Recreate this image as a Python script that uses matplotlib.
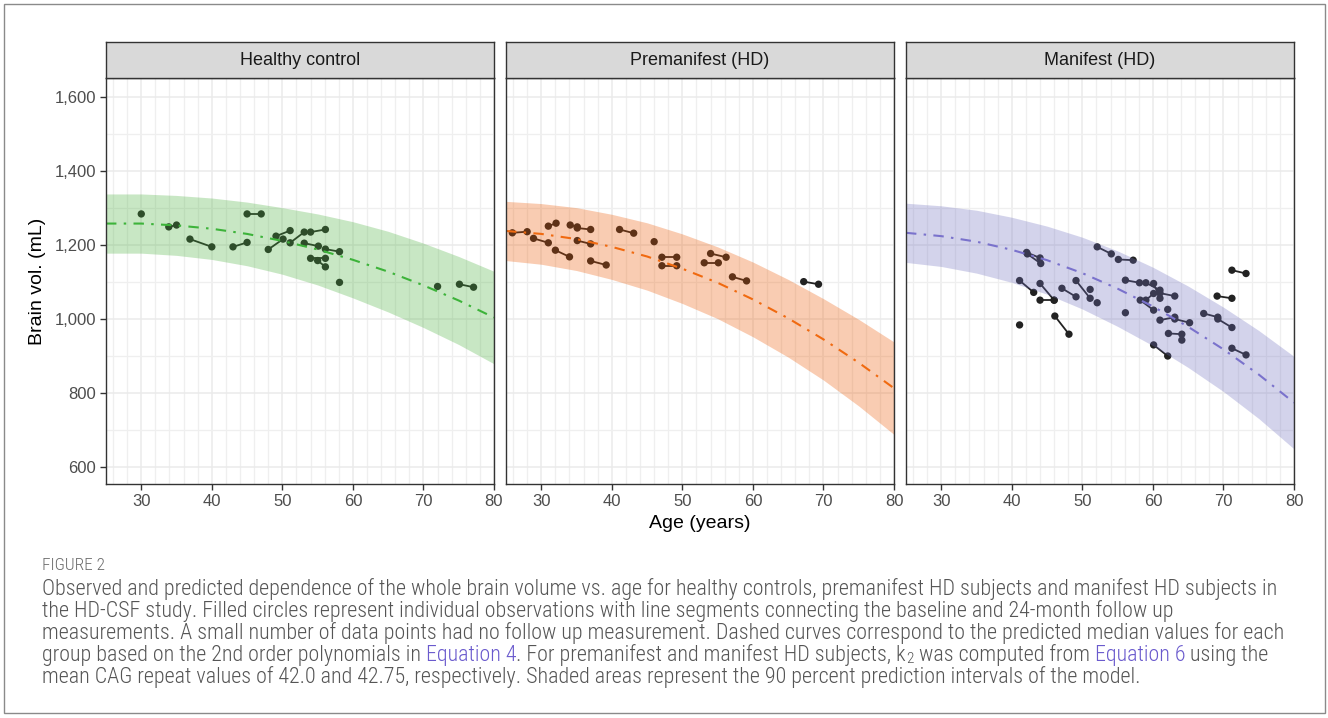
import numpy as np
import matplotlib
matplotlib.use("Agg")
import matplotlib.pyplot as plt
from matplotlib.patches import Rectangle
from matplotlib.ticker import FuncFormatter
from matplotlib import font_manager

nan = np.nan
W, H = 1328, 718

# ---------------- data ----------------
panel_titles = ["Healthy control", "Premanifest (HD)", "Manifest (HD)"]
x_ticks = [30, 40, 50, 60, 70, 80]
y_ticks = [600, 800, 1000, 1200, 1400, 1600]

curve_age = [25, 30, 35, 40, 45, 50, 55, 60, 65, 70, 75, 80]
hc_median = [1258, 1258, 1253, 1244, 1230, 1211, 1188, 1160, 1128, 1091, 1050, 1004]
hc_upper = [1338, 1338, 1334, 1327, 1316, 1301, 1284, 1263, 1237, 1205, 1169, 1129]
hc_lower = [1178, 1178, 1172, 1161, 1144, 1121, 1092, 1057, 1019, 977, 931, 879]

pre_median = [1238, 1230, 1216, 1195, 1169, 1136, 1098, 1053, 1002, 945, 882, 813]
pre_upper = [1318, 1312, 1301, 1283, 1260, 1230, 1195, 1154, 1107, 1055, 999, 938]
pre_lower = [1158, 1148, 1131, 1107, 1078, 1042, 1001, 952, 897, 835, 765, 688]

man_median = [1233, 1224, 1209, 1187, 1159, 1124, 1082, 1034, 979, 918, 850, 774]
man_upper = [1313, 1306, 1294, 1275, 1251, 1221, 1184, 1140, 1089, 1032, 969, 899]
man_lower = [1153, 1142, 1124, 1099, 1067, 1027, 980, 928, 869, 804, 731, 649]

hc_age0 = [30.0, 33.9, 36.9, 43.0, 45.0, 48.0, 49.1, 51.1, 54.0, 53.1, 56.1, 54.0, 55.0, 58.1, 72.0, 75.1]
hc_vol0 = [1284, 1249, 1216, 1195, 1284, 1188, 1224, 1206, 1235, 1205, 1189, 1164, 1158, 1099, 1088, 1094]
hc_age1 = [nan, 35.0, 40.0, 45.0, 47.0, 50.1, 51.1, 53.1, 56.1, 55.1, 58.1, 56.1, 56.1, nan, nan, 77.1]
hc_vol1 = [nan, 1254, 1195, 1207, 1284, 1216, 1239, 1235, 1242, 1197, 1182, 1164, 1141, nan, nan, 1086]

pre_age0 = [25.9, 31.0, 28.9, 32.0, 34.1, 35.1, 35.1, 37.0, 41.1, 46.0, 47.1, 47.1, 54.0, 53.1, 57.1, 67.2]
pre_vol0 = [1233, 1251, 1218, 1186, 1254, 1246, 1212, 1157, 1242, 1209, 1167, 1144, 1177, 1152, 1114, 1101]
pre_age1 = [28.0, 32.1, 31.0, 34.0, 35.1, 37.0, 37.0, 39.2, 43.1, nan, 49.2, 49.2, 56.2, 55.1, 59.1, 69.3]
pre_vol1 = [1236, 1259, 1206, 1168, 1249, 1242, 1203, 1146, 1232, nan, 1167, 1144, 1167, 1152, 1103, 1094]

man_age0 = [42.1, 42.2, 41.1, 44.0, 44.0, 46.1, 41.1, 47.1, 49.1, 51.1, 52.1, 52.1, 55.1, 56.1, 56.1,
            59.0, 60.1, 58.2, 59.0, 61.0, 62.1, 61.0, 63.1, 62.2, 64.1, 60.1, 67.2, 69.2, 69.1, 71.2, 71.2]
man_vol0 = [1180, 1176, 1104, 1096, 1051, 1008, 984, 1083, 1104, 1080, 1044, 1195, 1161, 1105, 1017,
            1098, 1096, 1051, 1051, 1070, 1026, 997, 1000, 961, 943, 930, 1015, 1000, 1062, 1132, 921]
man_age1 = [44.0, 44.1, 43.1, 46.0, 46.0, 48.1, nan, 49.1, 51.1, nan, nan, 54.1, 57.2, 58.1, nan,
            61.0, 61.0, 60.1, 60.1, 63.1, nan, 63.1, 65.2, 64.1, nan, 62.1, 69.2, 71.2, 71.2, 73.2, 73.2]
man_vol1 = [1165, 1150, 1072, 1051, 1051, 959, nan, 1060, 1056, nan, nan, 1176, 1159, 1098, nan,
            1078, 1056, 1024, 1069, 1062, nan, 1005, 990, 959, nan, 900, 1005, 977, 1056, 1123, 903]

groups = [
    (hc_median, hc_lower, hc_upper, hc_age0, hc_vol0, hc_age1, hc_vol1, "#4BB23E", "#3DB33A"),
    (pre_median, pre_lower, pre_upper, pre_age0, pre_vol0, pre_age1, pre_vol1, "#EE5800", "#F06A10"),
    (man_median, man_lower, man_upper, man_age0, man_vol0, man_age1, man_vol1, "#7070C0", "#7A72CC"),
]

# ---------------- figure ----------------
plt.rcParams['font.family'] = ['Liberation Sans', 'DejaVu Sans']
fig = plt.figure(figsize=(W / 100, H / 100), dpi=100)
fig.patches.append(Rectangle((4 / W, 1 - 713 / H), 1321 / W, 709 / H, transform=fig.transFigure,
                             fill=False, edgecolor="#8a8a8a", lw=1.0))

panel_left = [106, 506, 906]
pw, top, bottom = 388, 78, 484
strip_top = 42
ylo, yhi = 554.1, 1651.4

for i, (med, lo, up, a0, v0, a1, v1, fill_c, line_c) in enumerate(groups):
    ax = fig.add_axes([panel_left[i] / W, 1 - bottom / H, pw / W, (bottom - top) / H])
    ax.set_xlim(25, 80)
    ax.set_ylim(ylo, yhi)
    ax.set_xticks(x_ticks)
    ax.set_xticks(np.arange(26, 81, 2), minor=True)
    ax.set_yticks(y_ticks)
    ax.set_yticks(np.arange(700, 1600, 200), minor=True)
    ax.grid(True, which='major', color="#EBEBEB", lw=1.1, zorder=0)
    ax.grid(True, which='minor', color="#EFEFEF", lw=0.9, zorder=0)
    ax.set_axisbelow(True)
    ax.tick_params(which='minor', length=0)
    ax.tick_params(which='major', length=4, width=1.0, color="#333333", labelcolor="#4D4D4D",
                   labelsize=12, pad=3)
    ax.yaxis.set_major_formatter(FuncFormatter(lambda v, p: f"{v:,.0f}"))
    if i > 0:
        ax.tick_params(axis='y', left=False, labelleft=False)
    for s in ax.spines.values():
        s.set_color("#333333")
        s.set_linewidth(1.0)
        s.set_zorder(6)

    # observations (baseline and 24-month follow-up)
    for j in range(len(a0)):
        if not np.isnan(a1[j]):
            ax.plot([a0[j], a1[j]], [v0[j], v1[j]], color="#222222", lw=1.3, zorder=2,
                    solid_capstyle='butt')
    pts_a = list(a0) + [x for x in a1 if not np.isnan(x)]
    pts_v = list(v0) + [y for y, x in zip(v1, a1) if not np.isnan(x)]
    ax.scatter(pts_a, pts_v, s=28, color="#222222", edgecolors='none', zorder=2)

    # prediction interval and median
    ax.fill_between(curve_age, lo, up, color=fill_c, alpha=0.3, lw=0, zorder=3)
    ax.plot(curve_age, med, color=line_c, lw=1.5, dashes=(5, 3.5, 1.2, 3.5), zorder=4)

    # strip
    sx = fig.add_axes([panel_left[i] / W, 1 - top / H, pw / W, (top - strip_top) / H])
    sx.set_facecolor("#D9D9D9")
    sx.set_xticks([]); sx.set_yticks([])
    for s in sx.spines.values():
        s.set_color("#333333"); s.set_linewidth(1.0)
    sx.text(0.5, 0.48, panel_titles[i], ha='center', va='center', fontsize=13, color="#1A1A1A",
            transform=sx.transAxes)

fig.text(700 / W, 1 - 524 / H, "Age (years)", ha='center', va='center', fontsize=14, color="black")
fig.text(37 / W, 1 - 281 / H, "Brain vol. (mL)", ha='center', va='center', rotation=90,
         fontsize=14, color="black")

# ---------------- caption ----------------
# pick a condensed / narrow sans (light weight preferred) if one is installed
def weight_num(w):
    names = {'ultralight': 200, 'light': 300, 'normal': 400, 'regular': 400, 'book': 400,
             'medium': 500, 'semibold': 600, 'demibold': 600, 'bold': 700, 'heavy': 800,
             'extra bold': 800, 'black': 900}
    if isinstance(w, str):
        return names.get(w.lower(), 400)
    return int(w)

cap_prop = None
prefs = ['Roboto Condensed', 'Liberation Sans Narrow', 'Open Sans Condensed', 'DejaVu Sans Condensed']
entries = font_manager.fontManager.ttflist
for pref in prefs:
    cands = [e for e in entries if e.name == pref and e.style == 'normal'
             and 300 <= weight_num(e.weight) <= 400]
    if cands:
        cands.sort(key=lambda e: abs(weight_num(e.weight) - 300))
        cap_prop = font_manager.FontProperties(fname=cands[0].fname)
        break
if cap_prop is None:
    cap_prop = font_manager.FontProperties(family='Liberation Sans')

grey = "#555555"
link = "#6A5ACD"
renderer = fig.canvas.get_renderer()

def text_width(s, size):
    p = cap_prop.copy()
    p.set_size(size)
    t = fig.text(0, 0, s, fontproperties=p)
    w = t.get_window_extent(renderer).width
    t.remove()
    return w

line1 = ("Observed and predicted dependence of the whole brain volume vs. age for healthy controls, "
         "premanifest HD subjects and manifest HD subjects in")
base_size = 12.0
size = base_size * 1238.0 / text_width(line1, base_size)
size = min(size, 16.0)

def piece_width(s, sz):
    return text_width("|" + s + "|", sz) - text_width("||", sz)

cap_lines = [
    [(line1, grey, 0)],
    [("the HD-CSF study. Filled circles represent individual observations with line segments connecting "
      "the baseline and 24-month follow up", grey, 0)],
    [("measurements. A small number of data points had no follow up measurement. Dashed curves correspond "
      "to the predicted median values for each", grey, 0)],
    [("group based on the 2nd order polynomials in ", grey, 0), ("Equation 4", link, 0),
     (". For premanifest and manifest HD subjects, k", grey, 0), ("2", grey, 1),
     (" was computed from ", grey, 0), ("Equation 6", link, 0), (" using the", grey, 0)],
    [("mean CAG repeat values of 42.0 and 42.75, respectively. Shaded areas represent the 90 percent "
      "prediction intervals of the model.", grey, 0)],
]
line_y = [589, 611, 633, 655, 677]
for pieces, yy in zip(cap_lines, line_y):
    x = 42.0
    for s, c, sub in pieces:
        sz = size * 0.7 if sub else size
        dy = 4 if sub else 0
        p = cap_prop.copy()
        p.set_size(sz)
        fig.text(x / W, 1 - (yy + dy) / H, s, fontproperties=p, color=c, ha='left', va='center')
        x += piece_width(s, sz)

p = cap_prop.copy()
p.set_size(size * 0.78)
fig.text(42 / W, 1 - 566 / H, "FIGURE 2", fontproperties=p, color="#6A6A6A", ha='left', va='center')

fig.savefig("out.png", dpi=100)
